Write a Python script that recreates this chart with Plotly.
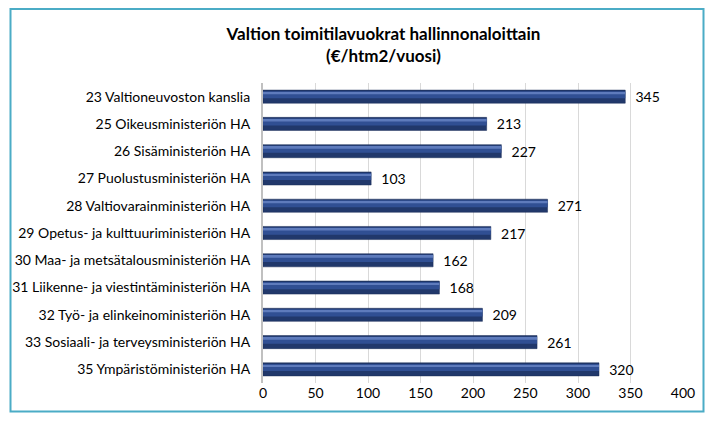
import plotly.graph_objects as go

categories = [
    "23 Valtioneuvoston kanslia",
    "25 Oikeusministeriön HA",
    "26 Sisäministeriön HA",
    "27 Puolustusministeriön HA",
    "28 Valtiovarainministeriön HA",
    "29 Opetus- ja kulttuuriministeriön HA",
    "30 Maa- ja metsätalousministeriön HA",
    "31 Liikenne- ja viestintäministeriön HA",
    "32 Työ- ja elinkeinoministeriön HA",
    "33 Sosiaali- ja terveysministeriön HA",
    "35 Ympäristöministeriön HA",
]
values = [345, 213, 227, 103, 271, 217, 162, 168, 209, 261, 320]
x_ticks = [0, 50, 100, 150, 200, 250, 300, 350, 400]

title_text = "<b>Valtion toimitilavuokrat hallinnonaloittain<br>(€/htm2/vuosi)</b>"

FONT = "Lato, 'Open Sans', sans-serif"
OFF = 8  # page offset of the figure in the browser (body margin)
W, H = 713 - 2 * OFF, 421 - 2 * OFF
L, T = 263 - OFF, 83 - OFF
R = W - (683 - OFF)
B = H - (383 - OFF)
pw, ph = W - L - R, H - T - B

def px(x):  # page pixel -> paper x
    return (x - OFF - L) / pw

def py(y):  # page pixel -> paper y
    return (H - B - (y - OFF)) / ph

fig = go.Figure()
fig.add_trace(go.Bar(
    y=categories, x=values, orientation="h", width=0.48,
    marker=dict(color="#21386B", line=dict(color="#1A2D57", width=0.5)),
    text=values, texttemplate="\u00a0\u00a0%{x}", textposition="outside",
    constraintext="none",
    textfont=dict(family=FONT, size=14, color="#000000"),
    cliponaxis=False, hoverinfo="skip", showlegend=False,
))
fig.add_trace(go.Bar(
    y=categories, x=values, orientation="h", width=0.26, offset=-0.2,
    marker=dict(color="#304F93", line=dict(width=0)),
    hoverinfo="skip", showlegend=False,
))
fig.add_trace(go.Bar(
    y=categories, x=values, orientation="h", width=0.07, offset=-0.16,
    marker=dict(color="#5E7BBC", line=dict(width=0)),
    hoverinfo="skip", showlegend=False,
))

fig.update_layout(
    template="none",
    width=W, height=H,
    margin=dict(l=L, r=R, t=T, b=B, autoexpand=False),
    paper_bgcolor="white", plot_bgcolor="white",
    barmode="overlay",
    font=dict(family=FONT, size=14, color="#000000"),
    title=dict(text=title_text, x=(383.5 - OFF) / W, y=1 - (40 - OFF) / H,
               xref="container", yref="container",
               xanchor="center", yanchor="middle",
               font=dict(family=FONT, size=17, color="#000000")),
    xaxis=dict(range=[0, 400], tickvals=x_ticks, ticktext=[str(t) for t in x_ticks],
               automargin=False,
               showgrid=True, gridcolor="#D9D9D9", gridwidth=1,
               zeroline=False, showline=False, ticks="",
               tickfont=dict(family=FONT, size=14, color="#000000")),
    yaxis=dict(autorange="reversed", showgrid=False, zeroline=False,
               automargin=False,
               showline=True, linecolor="#C0C0C0", linewidth=2, ticks="",
               ticklabelstandoff=8,
               tickfont=dict(family=FONT, size=14, color="#000000")),
    shapes=[dict(type="rect", xref="paper", yref="paper",
                 x0=px(10.5), x1=px(OFF + W - 1.5), y0=py(OFF + H - 1.5), y1=py(OFF + 1),
                 line=dict(color="#4BACC6", width=2), fillcolor="rgba(0,0,0,0)",
                 layer="above")],
)

fig.write_html("out.html")
